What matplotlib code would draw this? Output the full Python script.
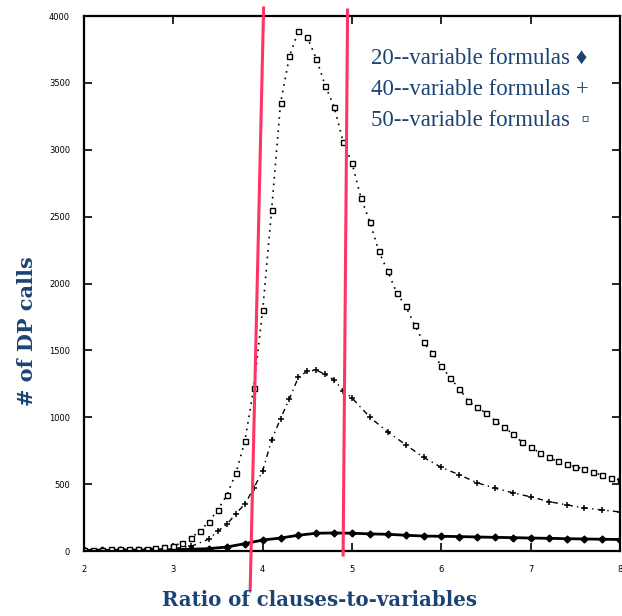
import matplotlib
matplotlib.use('Agg')
import matplotlib.pyplot as plt

# ratio of clauses to variables
x20 = [2.0, 2.2, 2.4, 2.6, 2.8, 3.0, 3.2, 3.4, 3.6, 3.8, 4.0, 4.2, 4.4, 4.6, 4.8,
       5.0, 5.2, 5.4, 5.6, 5.8, 6.0, 6.2, 6.4, 6.6, 6.8, 7.0, 7.2, 7.4, 7.6, 7.8, 8.0]
y20 = [5, 5, 6, 7, 8, 10, 13, 18, 30, 55, 82, 97, 118, 133, 135,
       133, 128, 125, 118, 112, 110, 108, 105, 102, 100, 97, 95, 92, 90, 88, 86]

x40 = [2.0, 2.2, 2.4, 2.6, 2.8, 3.0, 3.2, 3.4, 3.5, 3.6, 3.7, 3.8, 3.9, 4.0, 4.1,
       4.2, 4.3, 4.4, 4.5, 4.6, 4.7, 4.8, 4.9, 5.0, 5.2, 5.4, 5.6, 5.8, 6.0, 6.2,
       6.4, 6.6, 6.8, 7.0, 7.2, 7.4, 7.6, 7.8, 8.0]
y40 = [5, 6, 7, 9, 12, 18, 35, 90, 150, 200, 280, 350, 470, 600, 830,
       990, 1140, 1300, 1345, 1352, 1320, 1278, 1200, 1144, 1000, 890, 795, 700, 625, 570,
       510, 470, 435, 405, 370, 345, 322, 307, 292]

x50 = [2.0, 2.1, 2.2, 2.3, 2.4, 2.5, 2.6, 2.7, 2.8, 2.9, 3.0, 3.1, 3.2, 3.3, 3.4,
       3.5, 3.6, 3.7, 3.8, 3.9, 4.0, 4.1, 4.2, 4.3, 4.4, 4.5, 4.6, 4.7, 4.8, 4.9,
       5.0, 5.1, 5.2, 5.3, 5.4, 5.5, 5.6, 5.7, 5.8, 5.9, 6.0, 6.1, 6.2, 6.3, 6.4,
       6.5, 6.6, 6.7, 6.8, 6.9, 7.0, 7.1, 7.2, 7.3, 7.4, 7.5, 7.6, 7.7, 7.8, 7.9, 8.0]
y50 = [10, 10, 11, 12, 13, 14, 16, 18, 22, 30, 40, 60, 100, 150, 220,
       310, 420, 580, 820, 1220, 1800, 2550, 3350, 3700, 3890, 3840, 3680, 3480, 3320, 3060,
       2900, 2640, 2460, 2240, 2090, 1930, 1830, 1690, 1560, 1480, 1385, 1290, 1215, 1120, 1075,
       1030, 975, 925, 875, 815, 775, 735, 700, 670, 650, 630, 612, 590, 565, 545, 530]

legend_lines = ['20--variable formulas \u2666',
                '40--variable formulas +',
                '50--variable formulas  \u25ab']

# hand-drawn red markers (x at top, x at bottom, y top, y bottom)
red_lines = [((4.01, 3.86), (4060, -290)),
             ((4.95, 4.90), (4045, -30))]

text_color = '#1b4474'

fig = plt.figure(figsize=(6.22, 6.16), dpi=100)
ax = fig.add_axes([0.135, 0.1055, 0.862, 0.8685])

ax.plot(x20, y20, color='black', lw=2.0, marker='D', ms=3.5, mfc='black', mec='black')
ax.plot(x40, y40, color='black', lw=1.0, ls=(0, (4, 3, 1, 3)), marker='+', ms=4.5, mew=1.1)
ax.plot(x50, y50, color='black', lw=1.2, ls=(0, (1, 3)), marker='s', ms=3.6,
        mfc='white', mec='black', mew=1.0)

for xs, ys in red_lines:
    ax.plot(xs, ys, color='#ff3366', lw=2.2, clip_on=False, zorder=5)

ax.set_xlim(2, 8)
ax.set_ylim(0, 4000)
ax.set_xticks([2, 3, 4, 5, 6, 7, 8])
ax.set_yticks(range(0, 4001, 500))
ax.tick_params(direction='in', length=6, width=1.2, top=True, right=True,
               labelsize=6, pad=10)
for s in ax.spines.values():
    s.set_linewidth(1.6)

for i, t in enumerate(legend_lines):
    ax.text(0.536, 0.921 - i * 0.058, t, transform=ax.transAxes, fontsize=16.5,
            family='Liberation Serif', color=text_color, va='center', ha='left')

fig.text(0.514, 0.026, 'Ratio of clauses-to-variables', fontsize=14.2, fontweight='bold',
         family='DejaVu Serif', color=text_color, ha='center', va='center')
fig.text(0.044, 0.463, '# of DP calls', fontsize=15, fontweight='bold', rotation=90,
         family='DejaVu Serif', color=text_color, ha='center', va='center')

fig.savefig('out.png', dpi=100)
